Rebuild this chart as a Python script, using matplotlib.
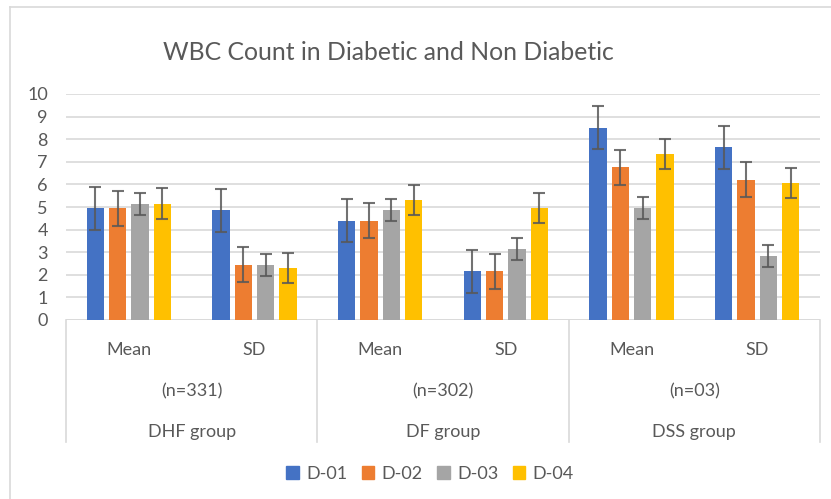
import matplotlib.pyplot as plt
import numpy as np
from matplotlib.lines import Line2D
from matplotlib.patches import Patch

plt.rcParams['font.family'] = ['Lato', 'DejaVu Sans']

# data
categories = ["Mean", "SD", "Mean", "SD", "Mean", "SD"]
sample_labels = ["(n=331)", "(n=302)", "(n=03)"]
groups = ["DHF group", "DF group", "DSS group"]
series = ["D-01", "D-02", "D-03", "D-04"]

d01 = [4.95, 4.85, 4.4, 2.15, 8.5, 7.65]
d02 = [4.95, 2.45, 4.4, 2.15, 6.75, 6.2]
d03 = [5.15, 2.45, 4.85, 3.15, 4.95, 2.85]
d04 = [5.15, 2.3, 5.3, 4.95, 7.35, 6.05]
errors = [0.95, 0.77, 0.49, 0.67]

colors = ['#4472C4', '#ED7D31', '#A5A5A5', '#FFC000']
txt = '#595959'
grid = '#D9D9D9'

fig = plt.figure(figsize=(8.31, 4.99), dpi=100)
W, H = 831, 499
ax = fig.add_axes([66 / W, 1 - 320 / H, (820 - 66) / W, (320 - 94) / H])

x = np.arange(len(categories))
step = 0.178
width = 0.139
for i, (vals, name) in enumerate(zip([d01, d02, d03, d04], series)):
    pos = x + (i - 1.5) * step
    ax.bar(pos, vals, width, color=colors[i], label=name, zorder=3)
    ax.errorbar(pos, vals, yerr=errors[i], fmt='none', ecolor='#595959',
                elinewidth=1.5, capsize=4, capthick=1.5, alpha=0.85, zorder=4)

ax.set_ylim(0, 10)
ax.set_xlim(-0.5, len(categories) - 0.5)
ax.set_yticks(range(0, 11))
ax.tick_params(axis='y', length=0, pad=13, labelsize=13, labelcolor=txt)
ax.set_xticks([])
ax.grid(axis='y', color=grid, linewidth=1.2, zorder=0)
for s in ['top', 'right', 'left', 'bottom']:
    ax.spines[s].set_visible(False)
ax.axhline(0, color=grid, linewidth=1.2, zorder=2)

# multi level category axis
tr = ax.get_xaxis_transform()
y_low = (320 - 442) / 226
for xs in [-0.5, 1.5, 3.5, 5.5]:
    ax.add_line(Line2D([xs, xs], [0, y_low], transform=tr, color=grid,
                       linewidth=1.2, clip_on=False))
for xi, lab in zip(x, categories):
    ax.text(xi, (320 - 350) / 226, lab, transform=tr, ha='center', va='center',
            fontsize=13, color=txt)
for g in range(len(groups)):
    xc = 2 * g + 0.5
    ax.text(xc, (320 - 391) / 226, sample_labels[g], transform=tr, ha='center',
            va='center', fontsize=13, color=txt)
    ax.text(xc, (320 - 432) / 226, groups[g], transform=tr, ha='center',
            va='center', fontsize=13, color=txt)

fig.text(388 / W, 1 - 52 / H, "WBC Count in Diabetic and Non Diabetic",
         ha='center', va='center', fontsize=17.8, color=txt)

handles = [Patch(color=c) for c in colors]
fig.legend(handles, series, loc='center', bbox_to_anchor=(430 / W, 1 - 474 / H),
           ncol=4, frameon=False, fontsize=13, labelcolor=txt,
           handlelength=0.7, handleheight=0.7, handletextpad=0.4,
           columnspacing=0.8)

# chart area border
fig.add_artist(Line2D([10 / W, 10 / W], [0, 1 - 7 / H], color=grid, linewidth=1.2))
fig.add_artist(Line2D([10 / W, 1], [1 - 7 / H, 1 - 7 / H], color=grid, linewidth=1.2))

fig.savefig('out.png', dpi=100)
